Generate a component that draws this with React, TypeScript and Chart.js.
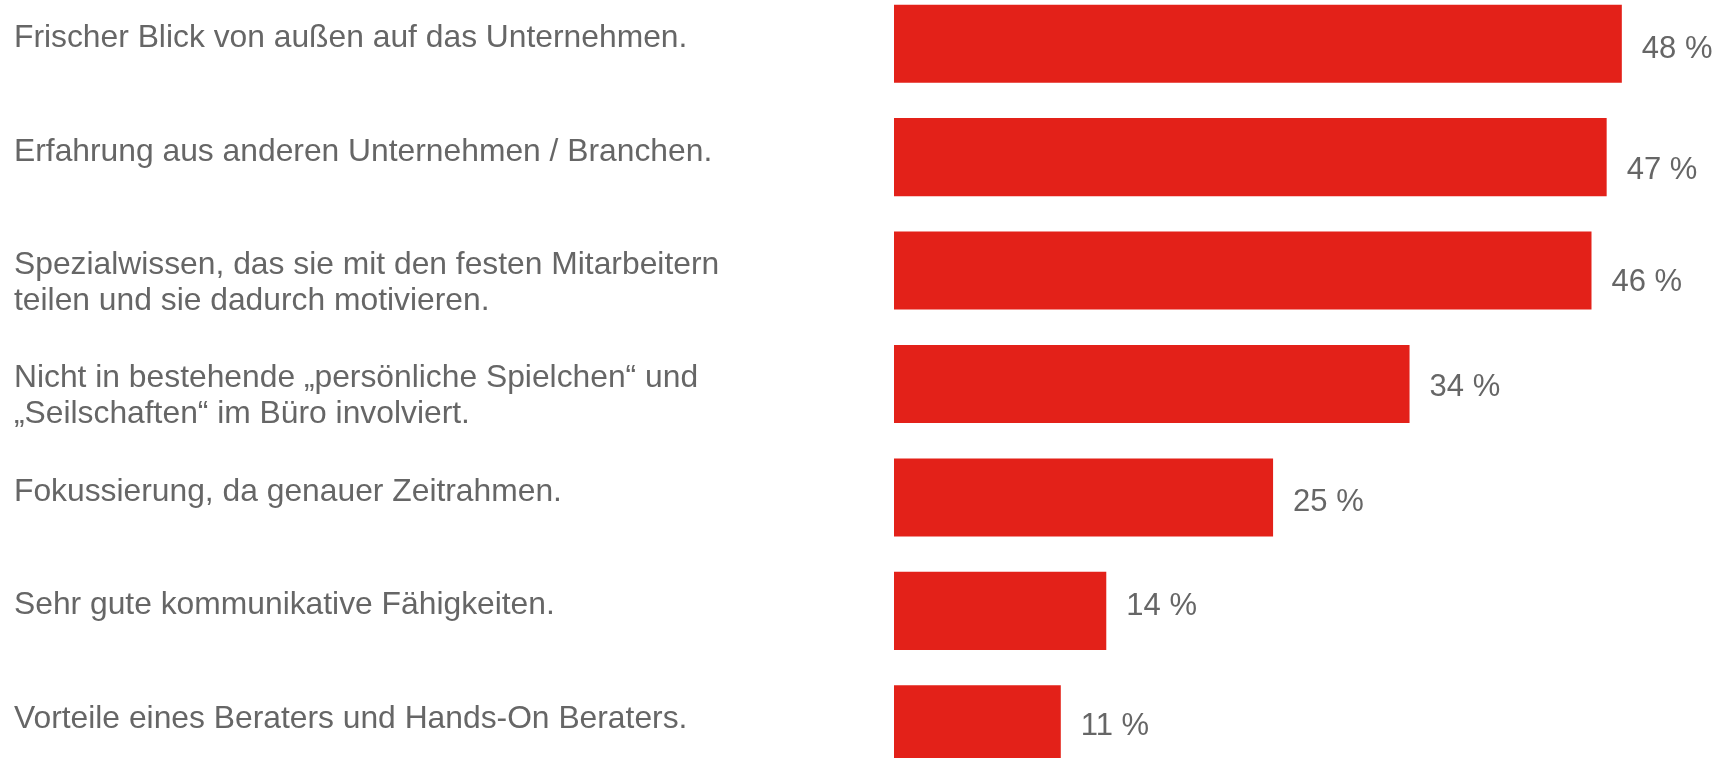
import React, { useEffect, useRef } from "react";
import { Chart, registerables } from "chart.js";

Chart.register(...registerables);

const categories: string[][] = [
  ["Frischer Blick von außen auf das Unternehmen."],
  ["Erfahrung aus anderen Unternehmen / Branchen."],
  ["Spezialwissen, das sie mit den festen Mitarbeitern", "teilen und sie dadurch motivieren."],
  ["Nicht in bestehende „persönliche Spielchen“ und", "„Seilschaften“ im Büro involviert."],
  ["Fokussierung, da genauer Zeitrahmen."],
  ["Sehr gute kommunikative Fähigkeiten."],
  ["Vorteile eines Beraters und Hands-On Beraters."],
];

const values: number[] = [48, 47, 46, 34, 25, 14, 11];

// small vertical nudges of the value labels (style only, in px)
const valueLabelNudge: number[] = [3, 10.5, 9.5, 1, 2, -7, 0];

const BAR_COLOR = "#E32119";
const TEXT_COLOR = "#666666";
const VALUE_FONT_SIZE = 31;
const CAT_FONT_SIZE = 31.8;
const fontOf = (s: number) => `${s}px "Liberation Sans", Arial, sans-serif`;

const labelPlugin = {
  id: "customLabels",
  afterDatasetsDraw(chart: any) {
    const ctx = chart.ctx;
    const meta = chart.getDatasetMeta(0);
    ctx.save();
    ctx.fillStyle = TEXT_COLOR;
    ctx.textBaseline = "alphabetic";
    ctx.textAlign = "left";
    meta.data.forEach((bar: any, i: number) => {
      const y = bar.y;
      // value label
      ctx.font = fontOf(VALUE_FONT_SIZE);
      ctx.fillText(
        `${values[i]} %`,
        bar.x + 20,
        y + valueLabelNudge[i] + 0.358 * VALUE_FONT_SIZE
      );
      // category label
      ctx.font = fontOf(CAT_FONT_SIZE);
      const lines = categories[i];
      lines.forEach((line, j) => {
        ctx.fillText(line, 14, y - 8 + 0.358 * CAT_FONT_SIZE + j * 36);
      });
    });
    ctx.restore();
  },
};

export default function App() {
  const canvasRef = useRef<HTMLCanvasElement | null>(null);

  useEffect(() => {
    if (!canvasRef.current) return;
    const chart = new Chart(canvasRef.current, {
      type: "bar",
      data: {
        labels: categories.map((c) => c.join(" ")),
        datasets: [
          {
            data: values,
            backgroundColor: BAR_COLOR,
            borderWidth: 0,
            categoryPercentage: 1,
            barPercentage: 0.688,
          },
        ],
      },
      options: {
        indexAxis: "y",
        responsive: false,
        animation: false,
        devicePixelRatio: 1,
        layout: { padding: { left: 894, right: 0, top: 0, bottom: 0 } },
        plugins: {
          legend: { display: false },
          tooltip: { enabled: false },
          title: { display: false },
        },
        scales: {
          x: { display: false, min: 0, max: 55.2 },
          y: { display: false },
        },
      },
      plugins: [labelPlugin],
    });
    return () => chart.destroy();
  }, []);

  return (
    <div
      style={{
        position: "absolute",
        left: 0,
        top: 0,
        width: 1731,
        height: 758,
        overflow: "hidden",
        background: "#ffffff",
      }}
    >
      <canvas
        ref={canvasRef}
        width={1731}
        height={794}
        style={{ position: "absolute", left: 0, top: -13, width: 1731, height: 794 }}
      />
    </div>
  );
}
